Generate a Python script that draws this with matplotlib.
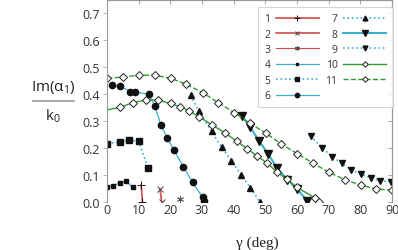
import matplotlib
matplotlib.use("Agg")
import matplotlib.pyplot as plt
from matplotlib.lines import Line2D

plt.rcParams['font.family'] = ['Open Sans', 'DejaVu Sans']

# ---- data (gamma in deg, Im(alpha1)/k0) ----
g1 = [10.8, 11.2]
v1 = [0.063, 0.0]
g2 = [16.7, 17.3]
v2 = [0.048, 0.0]
g3 = [23.0]
v3 = [0.011]
g4 = [0.1, 2.0, 4.1, 6.0, 8.1]
v4 = [0.055, 0.060, 0.072, 0.078, 0.054]
g5 = [0.1, 4.1, 7.0, 10.0, 13.0]
v5 = [0.217, 0.223, 0.231, 0.225, 0.125]
g6 = [1.7, 4.1, 7.3, 8.8, 13.2, 15.1, 17.0, 19.1, 21.1, 24.1, 27.0, 30.2, 30.7]
v6 = [0.433, 0.431, 0.410, 0.409, 0.400, 0.357, 0.286, 0.236, 0.193, 0.131,
      0.073, 0.017, 0.002]
g7 = [26.4, 29.0, 33.0, 36.2, 39.3, 42.3, 45.3, 48.3]
v7 = [0.396, 0.338, 0.262, 0.203, 0.153, 0.102, 0.053, 0.0]
g8 = [42.5, 45.1, 48.0, 50.9, 53.8, 56.9, 60.0, 63.2]
v8 = [0.320, 0.280, 0.227, 0.178, 0.125, 0.083, 0.048, 0.005]
g9 = [64.3, 68.0, 71.2, 74.2, 77.2, 80.1, 83.3, 86.1, 89.8]
v9 = [0.246, 0.199, 0.168, 0.143, 0.120, 0.104, 0.089, 0.079, 0.075]
g10 = [0.0, 4.1, 8.1, 12.3, 16.2, 20.1, 23.0, 26.0, 29.0, 33.1, 37.2, 41.1,
       44.3, 47.4, 50.4, 53.7, 56.9, 60.0, 65.6, 67.0]
v10 = [0.342, 0.351, 0.369, 0.379, 0.378, 0.366, 0.354, 0.338, 0.317, 0.287,
       0.257, 0.225, 0.197, 0.171, 0.146, 0.111, 0.084, 0.054, 0.016, 0.001]
g11 = [0.1, 5.1, 10.2, 15.1, 20.2, 25.1, 30.2, 35.1, 40.2, 45.1, 50.1, 55.1,
       60.0, 65.1, 70.1, 75.1, 80.1, 85.1, 90.0]
v11 = [0.459, 0.464, 0.471, 0.471, 0.459, 0.437, 0.406, 0.369, 0.332, 0.293,
       0.256, 0.215, 0.180, 0.144, 0.110, 0.083, 0.063, 0.048, 0.044]

xticks = [0, 10, 20, 30, 40, 50, 60, 70, 80, 90]
yticks = [0.0, 0.1, 0.2, 0.3, 0.4, 0.5, 0.6, 0.7]

red = '#d24a4a'
cyan = '#3aafcf'
green = '#2e9a32'
mk = '#111111'

fig = plt.figure(figsize=(3.98, 2.51), dpi=100)
ax = fig.add_axes([107 / 398, 1 - 203 / 251, 285 / 398, 202 / 251])

ax.plot(g1, v1, '-', color=red, lw=1.2, marker='+', ms=6, mec=mk, mew=0.7, label='1')
ax.plot(g2, v2, '-', color=red, lw=1.2, marker='x', ms=5, mec='#444', mew=0.7, label='2')
ax.plot(g3, v3, '-', color=red, lw=0.8, marker=(6, 2, 0), ms=5, mec='#555', mew=0.6, label='3')
ax.plot(g4, v4, '-', color=cyan, lw=0.9, marker='s', ms=3, mfc=mk, mec=mk, label='4')
ax.plot(g5, v5, ':', color=cyan, lw=1.2, marker='s', ms=5, mfc=mk, mec=mk, label='5')
ax.plot(g6, v6, '-', color=cyan, lw=0.9, marker='o', ms=4.5, mfc=mk, mec=mk, label='6')
ax.plot(g7, v7, ':', color=cyan, lw=1.2, marker='^', ms=5, mfc=mk, mec=mk, label='7')
ax.plot(g8, v8, '-', color=cyan, lw=1.5, marker='v', ms=5.5, mfc=mk, mec=mk, label='8')
ax.plot(g9, v9, ':', color=cyan, lw=1.2, marker='v', ms=5, mfc=mk, mec=mk, label='9')
ax.plot(g10, v10, '-', color=green, lw=1.0, marker='D', ms=4, mfc='white', mec='#222',
        mew=0.7, markevery=slice(1, None), label='10')
ax.plot(g11, v11, '--', color=green, lw=1.0, marker='D', ms=4, mfc='white', mec='#222',
        mew=0.7, label='11')

ax.set_xlim(0, 90)
ax.set_ylim(0, 0.75)
ax.set_xticks(xticks)
ax.set_yticks(yticks)
ax.set_yticklabels(['%.1f' % t for t in yticks])

for s in ['left', 'top', 'right']:
    ax.spines[s].set_color('#999999')
    ax.spines[s].set_linewidth(0.8)
ax.spines['bottom'].set_visible(False)
ax.tick_params(axis='x', length=0, labelsize=9, colors='#333333', pad=1)
ax.tick_params(axis='y', direction='out', length=3, width=0.6, color='#aaaaaa',
               labelsize=9, labelcolor='#333333', pad=2)

# inward ticks on the top and right sides
top = ax.secondary_xaxis('top')
top.set_xticks(xticks)
top.tick_params(direction='in', length=3, width=0.6, color='#999999', labeltop=False)
top.spines['top'].set_color('#999999')
right = ax.secondary_yaxis('right')
right.set_yticks(yticks)
right.tick_params(direction='in', length=3, width=0.6, color='#999999', labelright=False)
right.spines['right'].set_color('#999999')

leg = ax.legend(loc='upper left', bbox_to_anchor=(0.53, 0.965), ncol=2,
                markerfirst=False, fontsize=7.5, frameon=True, fancybox=False,
                handlelength=4.2, handletextpad=0.5, columnspacing=0.6,
                labelspacing=0.42, borderpad=0.6, borderaxespad=0, markerscale=0.7)
leg.get_frame().set_edgecolor('#cccccc')
leg.get_frame().set_linewidth(0.8)
for t in leg.get_texts():
    t.set_color('#333333')

# fraction-style y label
fig.text(53 / 398, 1 - 88 / 251, 'Im(\u03b1$_{\\mathregular{1}}$)', ha='center', va='center',
         fontsize=11, color='#222222')
fig.add_artist(Line2D([33 / 398, 74 / 398], [1 - 102 / 251, 1 - 102 / 251],
                      color='#999999', lw=1.2, transform=fig.transFigure))
fig.text(53 / 398, 1 - 116 / 251, 'k$_{\\mathregular{0}}$', ha='center', va='center',
         fontsize=11, color='#222222')

fig.text(257 / 398, 1 - 243 / 251, '\u03b3 (deg)', ha='center', va='center',
         fontsize=11, family='Liberation Serif', color='#222222')

fig.savefig('out.png', dpi=100)
